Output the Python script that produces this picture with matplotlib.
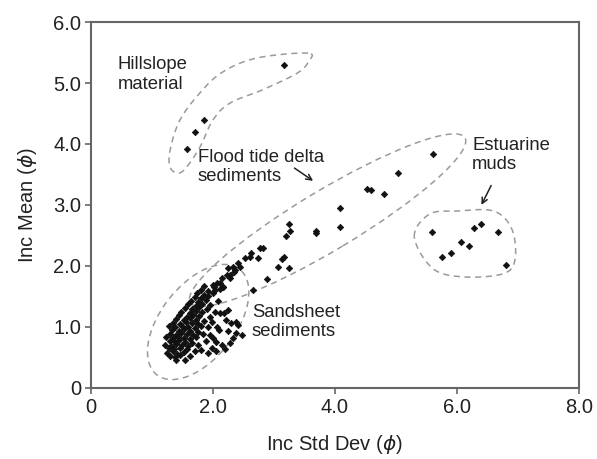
import numpy as np
import matplotlib
matplotlib.use('Agg')
import matplotlib.pyplot as plt
from matplotlib.patches import Ellipse

plt.rcParams['font.family'] = ['Liberation Sans', 'DejaVu Sans']
plt.rcParams['mathtext.fontset'] = 'dejavusans'

# hillslope material
hill_x = [3.17, 1.86, 1.70, 1.57]
hill_y = [5.30, 4.40, 4.19, 3.91]

# flood tide delta sediments
flood_x = [5.60, 5.04, 4.52, 4.59, 4.81, 4.09, 4.09, 3.69, 3.69, 3.24, 3.26, 3.20,
           3.17, 3.13, 3.07, 3.25, 2.89, 2.77, 2.63, 2.61, 2.52, 2.41, 2.33, 2.25,
           2.36, 2.28, 2.74, 2.28, 2.11, 2.00, 2.17, 2.34, 2.23, 2.15, 2.07, 2.16,
           2.03, 2.82, 2.66, 2.45]
flood_y = [3.84, 3.52, 3.26, 3.25, 3.18, 2.95, 2.64, 2.58, 2.54, 2.69, 2.57, 2.49,
           2.15, 2.11, 1.99, 1.96, 1.78, 2.29, 2.21, 2.15, 2.13, 2.04, 1.99, 1.96,
           1.93, 1.85, 2.13, 1.80, 1.72, 1.69, 1.66, 1.90, 1.85, 1.80, 1.72, 1.66,
           1.61, 2.30, 1.61, 1.98]

# estuarine muds
est_x = [5.59, 5.75, 5.90, 6.07, 6.19, 6.28, 6.40, 6.67, 6.81]
est_y = [2.56, 2.14, 2.21, 2.39, 2.33, 2.63, 2.68, 2.55, 2.02]

# sandsheet sediments
sand_x = [1.40, 1.55,
          1.30, 1.38, 1.47, 1.62,
          1.25, 1.34, 1.42, 1.52, 1.70, 1.92, 2.05,
          1.28, 1.37, 1.46, 1.57, 1.80, 1.98, 2.20,
          1.22, 1.32, 1.40, 1.50, 1.60, 1.75, 2.15, 2.28,
          1.30, 1.38, 1.45, 1.55, 1.66, 1.88, 2.06,
          1.24, 1.35, 1.43, 1.52, 1.62, 1.72, 2.00, 2.33, 2.48,
          1.30, 1.40, 1.48, 1.58, 1.68, 1.84, 1.95, 2.38,
          1.33, 1.44, 1.53, 1.63, 1.75, 2.10, 2.25,
          1.28, 1.38, 1.50, 1.60, 1.70, 1.80, 1.92, 2.07, 2.42,
          1.35, 1.46, 1.56, 1.66, 1.76, 1.98, 2.30,
          1.40, 1.52, 1.62, 1.72, 1.85, 2.22, 2.38,
          1.45, 1.58, 1.68, 1.78, 1.95, 2.12,
          1.48, 1.62, 1.73, 1.83, 2.03, 2.18,
          1.55, 1.66, 1.77, 1.90, 2.25,
          1.60, 1.72, 1.82, 1.96,
          1.64, 1.76, 1.88, 2.08,
          1.70, 1.80, 1.92,
          1.74, 1.86, 2.00,
          1.80, 1.92, 2.12,
          1.86, 2.02]
sand_y = [0.46, 0.45,
          0.53, 0.51, 0.54, 0.52,
          0.57, 0.60, 0.56, 0.59, 0.61, 0.57, 0.60,
          0.65, 0.63, 0.66, 0.64, 0.62, 0.65, 0.63,
          0.71, 0.69, 0.72, 0.70, 0.68, 0.71, 0.70, 0.73,
          0.77, 0.75, 0.78, 0.76, 0.74, 0.77, 0.75,
          0.83, 0.81, 0.84, 0.82, 0.80, 0.83, 0.81, 0.82, 0.87,
          0.89, 0.87, 0.90, 0.88, 0.86, 0.89, 0.87, 0.90,
          0.95, 0.93, 0.96, 0.94, 0.92, 0.95, 0.94,
          1.01, 0.99, 1.02, 1.00, 0.98, 1.01, 0.99, 1.00, 1.03,
          1.07, 1.05, 1.08, 1.06, 1.04, 1.08, 1.07,
          1.13, 1.11, 1.14, 1.12, 1.10, 1.12, 1.08,
          1.19, 1.17, 1.20, 1.18, 1.16, 1.23,
          1.25, 1.23, 1.26, 1.24, 1.25, 1.22,
          1.31, 1.29, 1.32, 1.30, 1.28,
          1.37, 1.35, 1.38, 1.36,
          1.43, 1.41, 1.44, 1.42,
          1.49, 1.47, 1.50,
          1.55, 1.53, 1.56,
          1.61, 1.59, 1.62,
          1.67, 1.65]

xticks = [0, 2, 4, 6, 8]
xticklabels = ['0', '2.0', '4.0', '6.0', '8.0']
yticks = [0, 1, 2, 3, 4, 5, 6]
yticklabels = ['0', '1.0', '2.0', '3.0', '4.0', '5.0', '6.0']

# outline control points for the hand-drawn enclosures
hill_ox = [3.56, 2.72, 2.16, 1.79, 1.46, 1.30, 1.30, 1.43, 1.57, 1.79, 2.00, 2.28, 2.82, 3.38, 3.56]
hill_oy = [5.49, 5.41, 5.18, 4.84, 4.39, 3.90, 3.62, 3.52, 3.62, 3.95, 4.39, 4.67, 4.89, 5.16, 5.34]
est_ox = [5.30, 5.55, 6.00, 6.60, 6.90, 6.95, 6.75, 6.10, 5.60]
est_oy = [2.48, 2.85, 2.90, 2.90, 2.60, 2.10, 1.87, 1.82, 1.96]


def closed_curve(px, py, n=30):
    pts = np.column_stack([px, py])
    m = len(pts)
    t = np.linspace(0, 1, n, endpoint=False)[:, None]
    out = []
    for i in range(m):
        p0, p1, p2, p3 = pts[(i - 1) % m], pts[i], pts[(i + 1) % m], pts[(i + 2) % m]
        out.append(0.5 * (2 * p1 + (-p0 + p2) * t + (2 * p0 - 5 * p1 + 4 * p2 - p3) * t ** 2
                          + (-p0 + 3 * p1 - 3 * p2 + p3) * t ** 3))
    out = np.vstack(out)
    return np.vstack([out, out[:1]])


fig = plt.figure(figsize=(5.97, 4.59), dpi=100)
ax = fig.add_axes([0.152, 0.155, 0.818, 0.797])

dash = (0, (4, 3))
gray = '#9a9a9a'
c = closed_curve(hill_ox, hill_oy)
ax.plot(c[:, 0], c[:, 1], color=gray, lw=1.1, ls=dash)
c = closed_curve(est_ox, est_oy)
ax.plot(c[:, 0], c[:, 1], color=gray, lw=1.1, ls=dash)
ax.add_patch(Ellipse((3.88, 2.75), 5.25, 0.98, angle=31, fill=False,
                     edgecolor=gray, lw=1.1, ls=dash))
ax.add_patch(Ellipse((1.76, 1.08), 2.2, 1.22, angle=52, fill=False,
                     edgecolor=gray, lw=1.1, ls=dash))

for xs, ys in [(hill_x, hill_y), (flood_x, flood_y), (est_x, est_y), (sand_x, sand_y)]:
    ax.plot(xs, ys, ls='none', marker='D', ms=3.3, color='#111111', mec='#111111', mew=0.5)

tk = dict(fontsize=13.3, color='#222222', linespacing=1.2)
ax.text(0.44, 5.44, 'Hillslope\nmaterial', va='top', ha='left', **tk)
ax.text(1.75, 3.92, 'Flood tide delta\nsediments', va='top', ha='left', **tk)
ax.text(6.25, 4.12, 'Estuarine\nmuds', va='top', ha='left', **tk)
ax.text(2.64, 1.38, 'Sandsheet\nsediments', va='top', ha='left', **tk)

arr = dict(arrowstyle='->', color='#222222', lw=1.1)
ax.annotate('', xy=(3.68, 3.37), xytext=(3.30, 3.63), arrowprops=arr)
ax.annotate('', xy=(6.38, 2.96), xytext=(6.58, 3.36), arrowprops=arr)

ax.set_xlim(0, 8)
ax.set_ylim(0, 6)
ax.set_xticks(xticks)
ax.set_xticklabels(xticklabels)
ax.set_yticks(yticks)
ax.set_yticklabels(yticklabels)
ax.tick_params(direction='out', length=4, width=1.2, color='#666666',
               labelsize=14.5, labelcolor='#222222', pad=3)
for s in ax.spines.values():
    s.set_color('#666666')
    s.set_linewidth(1.5)
ax.set_xlabel(r'Inc Std Dev ($\phi$)', fontsize=14.5, color='#222222', labelpad=12)
ax.set_ylabel(r'Inc Mean ($\phi$)', fontsize=14.5, color='#222222', labelpad=10)

fig.savefig('out.png', dpi=100)
